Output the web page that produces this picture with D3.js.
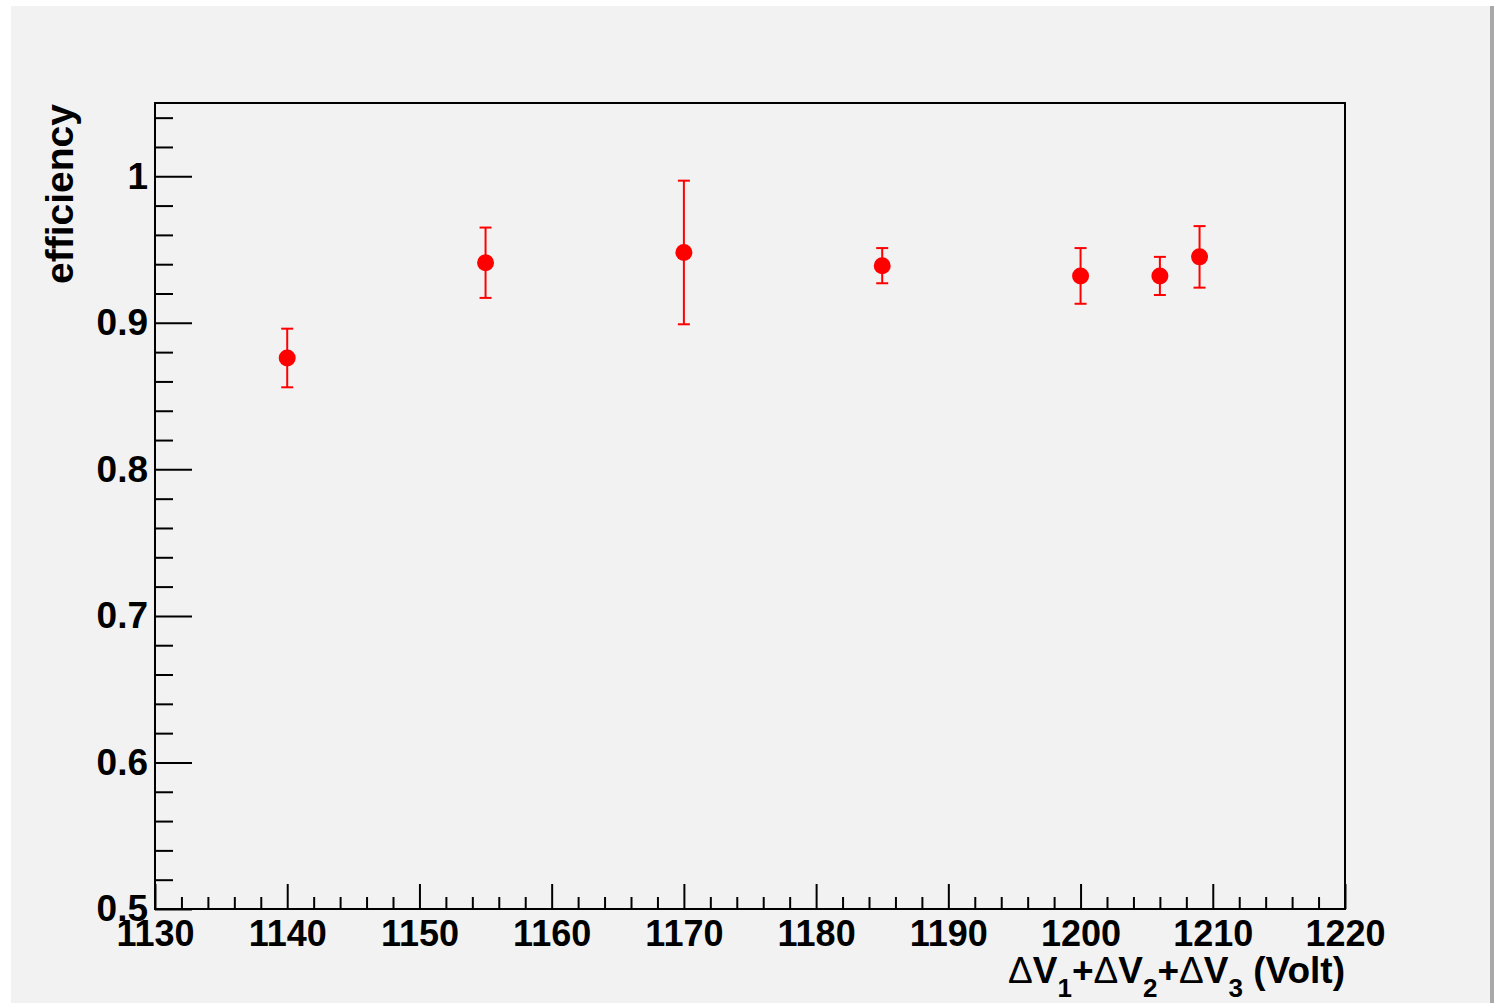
<!DOCTYPE html>
<meta charset="utf-8">
<style>
body { margin: 0; background: #fff; }
text { font-family: "Liberation Sans", Arial, sans-serif; font-weight: bold; fill: #000; }
</style>
<svg width="1499" height="1003"></svg>
<script src="https://d3js.org/d3.v7.min.js"></script>
<script>

// measured points: HV sum (Volt), efficiency, error
var voltage    = [1140, 1155, 1170, 1185, 1200, 1206, 1209];
var efficiency = [0.876, 0.941, 0.948, 0.939, 0.932, 0.932, 0.945];
var errors     = [0.020, 0.024, 0.049, 0.012, 0.019, 0.013, 0.021];

var xMajor = [1130, 1140, 1150, 1160, 1170, 1180, 1190, 1200, 1210, 1220];
var yMajor = [0.5, 0.6, 0.7, 0.8, 0.9, 1];

var svg = d3.select("svg"),
		width = +svg.attr("width"),
		height = +svg.attr("height");

var margin = {left: 155, top: 103, right: 1345, bottom: 909};

// pad background
svg.append("rect")
		.attr("x", 11).attr("y", 6)
		.attr("width", 1479).attr("height", height - 6)
		.attr("fill", "#f2f2f2");
svg.append("rect")
		.attr("x", 1490).attr("y", 6)
		.attr("width", 4).attr("height", height - 6)
		.attr("fill", "#a9a9a9");

var x = d3.scaleLinear().domain([1130, 1220]).range([margin.left, margin.right]);
var y = d3.scaleLinear().domain([0.5, 1.05]).range([margin.bottom, margin.top]);

var xMinor = d3.range(1130, 1221, 2).filter(function(v) { return v % 10 !== 0; });
var yMinor = d3.range(0.5, 1.051, 0.02).filter(function(v) { return Math.abs(v * 10 - Math.round(v * 10)) > 1e-6; });

// minor ticks
svg.append("g")
		.attr("transform", "translate(0," + margin.bottom + ")")
		.call(d3.axisBottom(x).tickValues(xMinor).tickSize(-12).tickFormat(""))
		.call(function(g) { g.select(".domain").remove(); })
		.selectAll("line").attr("stroke-width", 2);

svg.append("g")
		.attr("transform", "translate(" + margin.left + ",0)")
		.call(d3.axisLeft(y).tickValues(yMinor).tickSize(-18).tickFormat(""))
		.call(function(g) { g.select(".domain").remove(); })
		.selectAll("line").attr("stroke-width", 2);

// major ticks + labels
var xAxis = svg.append("g")
		.attr("transform", "translate(0," + margin.bottom + ")")
		.call(d3.axisBottom(x).tickValues(xMajor).tickSize(-25).tickPadding(11).tickFormat(d3.format("d")));
xAxis.select(".domain").remove();
xAxis.selectAll("line").attr("stroke-width", 2);
xAxis.selectAll("text")
		.attr("font-size", 36)
		.attr("font-family", "Liberation Sans, Arial, sans-serif")
		.attr("font-weight", "bold");

var yAxis = svg.append("g")
		.attr("transform", "translate(" + margin.left + ",0)")
		.call(d3.axisLeft(y).tickValues(yMajor).tickSize(-37).tickPadding(7).tickFormat(function(d) { return d === 1 ? "1" : d3.format(".1f")(d); }));
yAxis.select(".domain").remove();
yAxis.selectAll("line").attr("stroke-width", 2);
yAxis.selectAll("text")
		.attr("font-size", 37)
		.attr("font-family", "Liberation Sans, Arial, sans-serif")
		.attr("font-weight", "bold");

// frame
svg.append("rect")
		.attr("x", margin.left).attr("y", margin.top)
		.attr("width", margin.right - margin.left)
		.attr("height", margin.bottom - margin.top)
		.attr("fill", "none")
		.attr("stroke", "#000")
		.attr("stroke-width", 2);

// axis titles
svg.append("text")
		.attr("transform", "translate(73," + (margin.top + 1) + ") rotate(-90)")
		.attr("text-anchor", "end")
		.attr("font-size", 39)
		.text("efficiency");

var xt = svg.append("text")
		.attr("x", margin.right)
		.attr("y", 983)
		.attr("text-anchor", "end")
		.attr("font-size", 37);
[["Δ", 0], ["V", 0], ["1", 1], ["+", 0], ["Δ", 0], ["V", 0], ["2", 1], ["+", 0], ["Δ", 0], ["V", 0], ["3", 1], [" (Volt)", 0]]
	.forEach(function(p, i, arr) {
		var prevSub = i > 0 && arr[i - 1][1];
		var t = xt.append("tspan").text(p[0]);
		if (p[0] === "Δ") t.attr("font-weight", "normal");
		if (p[1]) t.attr("font-size", 26).attr("dy", 14);
		else if (prevSub) t.attr("dy", -14);
	});

// error bars
var pts = voltage.map(function(v, i) { return {x: v, y: efficiency[i], e: errors[i]}; });

var eb = svg.append("g")
		.attr("stroke", "#ff0000")
		.attr("stroke-width", 2)
		.selectAll("g")
		.data(pts)
		.enter().append("g");

eb.append("line")
		.attr("x1", function(d) { return x(d.x); })
		.attr("x2", function(d) { return x(d.x); })
		.attr("y1", function(d) { return y(d.y - d.e); })
		.attr("y2", function(d) { return y(d.y + d.e); });
eb.append("line")
		.attr("x1", function(d) { return x(d.x) - 6; })
		.attr("x2", function(d) { return x(d.x) + 6; })
		.attr("y1", function(d) { return y(d.y + d.e); })
		.attr("y2", function(d) { return y(d.y + d.e); });
eb.append("line")
		.attr("x1", function(d) { return x(d.x) - 6; })
		.attr("x2", function(d) { return x(d.x) + 6; })
		.attr("y1", function(d) { return y(d.y - d.e); })
		.attr("y2", function(d) { return y(d.y - d.e); });

svg.append("g")
		.attr("fill", "#ff0000")
	.selectAll("circle")
	.data(pts)
	.enter().append("circle")
		.attr("cx", function(d) { return x(d.x); })
		.attr("cy", function(d) { return y(d.y); })
		.attr("r", 8.5);

</script>
